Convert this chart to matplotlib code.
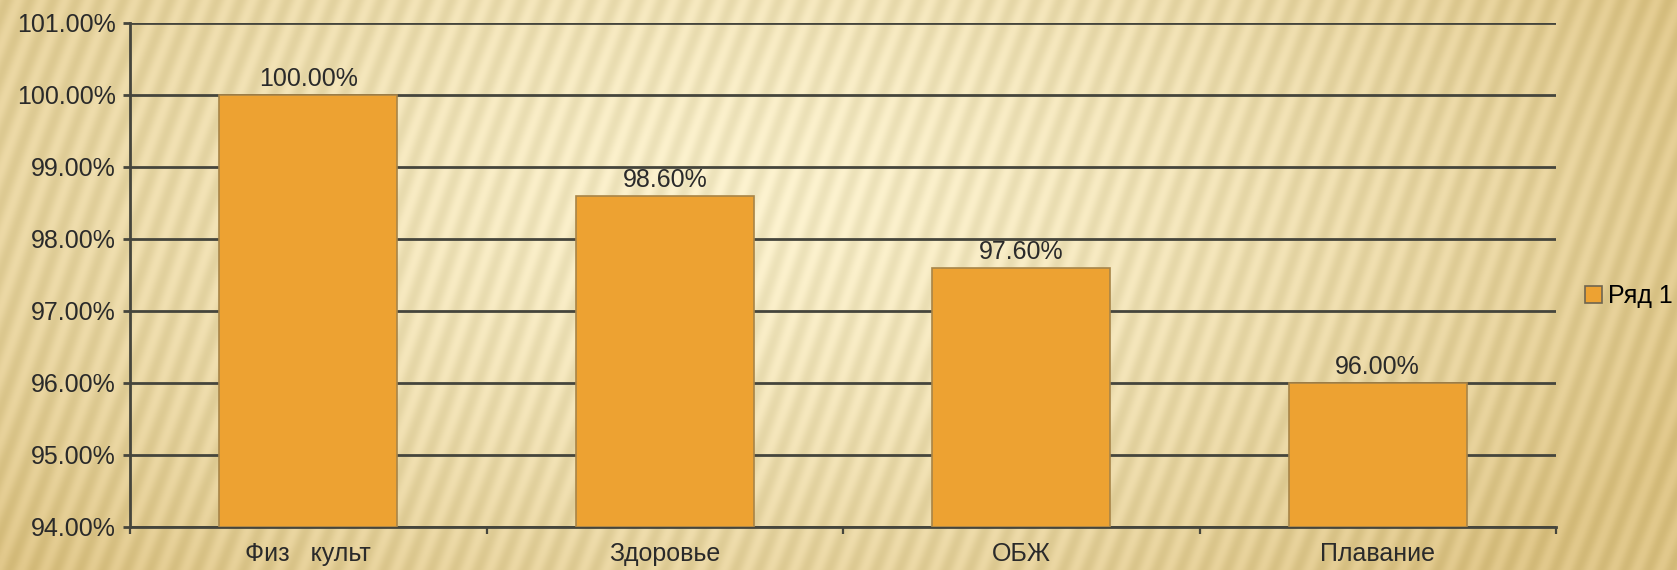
import numpy as np
import matplotlib
matplotlib.use("Agg")
import matplotlib.pyplot as plt
from matplotlib.patches import Patch

categories = ["Физ   культ", "Здоровье", "ОБЖ", "Плавание"]
values = [100.00, 98.60, 97.60, 96.00]
value_labels = ["100.00%", "98.60%", "97.60%", "96.00%"]
y_ticks = [94, 95, 96, 97, 98, 99, 100, 101]
y_tick_labels = ["94.00%", "95.00%", "96.00%", "97.00%", "98.00%", "99.00%", "100.00%", "101.00%"]
series_name = "Ряд 1"

plt.rcParams['font.family'] = ['Liberation Sans', 'DejaVu Sans']
FS = 18
TXT = "#2a2a2a"
LINE = "#45453c"

W, H = 1677, 570
fig = plt.figure(figsize=(W / 100, H / 100), dpi=100)

# background texture (decorative)
bg = fig.add_axes([0, 0, 1, 1])
yy, xx = np.mgrid[0:H, 0:W]
ang = np.deg2rad(70)
phase = (xx * np.sin(ang) + yy * np.cos(ang)) / 22.0
stripe = 0.5 + 0.5 * np.sin(2 * np.pi * phase + 0.6 * np.sin(yy / 90.0))
cx, cy = W * 0.45, H * 0.35
r = np.sqrt(((xx - cx) / (W * 0.62)) ** 2 + ((yy - cy) / (H * 0.9)) ** 2)
r = np.clip(r, 0, 1)
light = np.array([253, 243, 208]) / 255.0
dark = np.array([226, 201, 140]) / 255.0
base = light[None, None, :] * (1 - r[..., None] ** 1.5) + dark[None, None, :] * (r[..., None] ** 1.5)
img = base - (stripe[..., None] * 0.06) * np.array([1.0, 1.0, 1.3])[None, None, :]
img = np.clip(img, 0, 1)
bg.imshow(img, aspect='auto', extent=[0, 1, 0, 1], origin='upper')
bg.axis('off')

ax = fig.add_axes([130 / W, 1 - 527 / H, (1556 - 130) / W, (527 - 23) / H])
ax.patch.set_alpha(0)

x = np.arange(len(categories))
bars = ax.bar(x, [v - 94 for v in values], bottom=94, width=0.5,
              color="#EDA232", edgecolor="#A88548", linewidth=1.2, zorder=3)

ax.set_xlim(-0.5, len(categories) - 0.5)
ax.set_ylim(94, 101)
ax.set_yticks(y_ticks)
ax.set_yticklabels(y_tick_labels, fontsize=FS, color=TXT)
ax.yaxis.grid(True, color=LINE, linewidth=2.0, zorder=1)
ax.set_axisbelow(True)

ax.set_xticks(x)
ax.set_xticklabels(categories, fontsize=FS, color=TXT)
ax.tick_params(axis='x', length=0, pad=11)
ax.set_xticks(np.arange(len(categories) + 1) - 0.5, minor=True)
ax.tick_params(axis='x', which='minor', length=5, width=1.6, color=LINE, direction='out')
ax.tick_params(axis='y', length=5, width=2.0, color=LINE, pad=5)

for s in ['top', 'right']:
    ax.spines[s].set_visible(False)
for s in ['left', 'bottom']:
    ax.spines[s].set_color(LINE)
    ax.spines[s].set_linewidth(2.0)

for xi, v, lab in zip(x, values, value_labels):
    ax.annotate(lab, (xi, v), xytext=(0, 3), textcoords='offset points',
                ha='center', va='bottom', fontsize=FS, color=TXT, zorder=4)

handle = Patch(facecolor="#EDA232", edgecolor="#6f6550", linewidth=1.2)
fig.legend([handle], [series_name], loc='center left', bbox_to_anchor=(1585 / W, 1 - 296 / H),
           frameon=False, fontsize=FS, handlelength=0.68, handleheight=0.68, handletextpad=0.25,
           borderpad=0, borderaxespad=0)

fig.savefig("out.png", dpi=100)
